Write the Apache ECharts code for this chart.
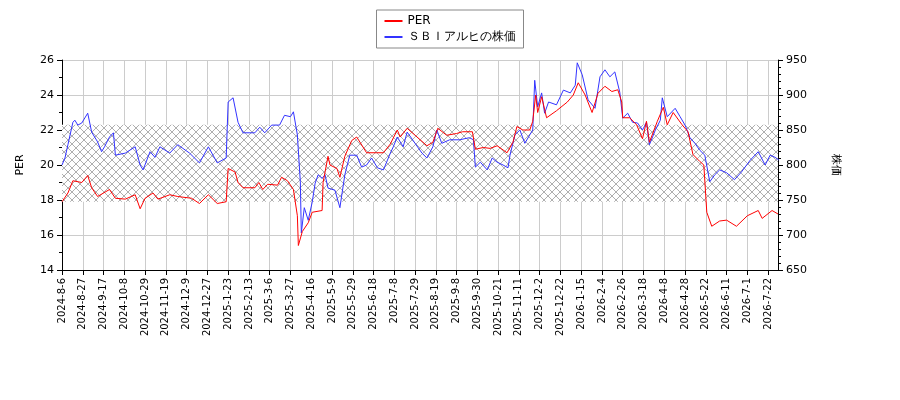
<!DOCTYPE html>
<html><head><meta charset="utf-8">
<script src="https://cdn.jsdelivr.net/npm/echarts@6/dist/echarts.min.js"></script>
<style>html,body{margin:0;padding:0;background:#fff}#c{width:900px;height:400px}</style>
</head><body><div id="c"></div>
<script>
const tickLabels = ['2024-8-6','2024-8-27','2024-9-17','2024-10-8','2024-10-29','2024-11-19','2024-12-9','2024-12-27',
'2025-1-23','2025-2-13','2025-3-6','2025-3-27','2025-4-16','2025-5-9','2025-5-29','2025-6-18','2025-7-8','2025-7-29',
'2025-8-19','2025-9-8','2025-9-30','2025-10-21','2025-11-11','2025-12-2','2025-12-22',
'2026-1-15','2026-2-4','2026-2-26','2026-3-18','2026-4-8','2026-4-28','2026-5-22','2026-6-11','2026-7-1','2026-7-22'];
const perPos = [0,6,11,20,26,30,36,48,54,64,74,79,84,92,97,109,117,131,139,148,157,166,168,175,178,183,195,199,203,208,218,222,228,234,238,239,243,249,253,263,264,269,271,278,281,286,293,298,308,318,325,332,339,342,349,357,369,375,380,389,399,405,415,418,426,433,440,450,456,460,466,473,476,479,481,485,490,500,511,517,522,529,536,542,549,556,562,566,567,574,581,587,591,594,602,608,612,618,627,633,638,645,649,652,657,665,672,682,693,704,708,718,724];
const perValues = [17.9,18.4,19.1,19.0,19.4,18.7,18.2,18.6,18.1,18.05,18.3,17.5,18.1,18.4,18.05,18.3,18.2,18.1,17.8,18.3,17.8,17.9,19.8,19.6,19.0,18.7,18.7,19.0,18.6,18.9,18.85,19.3,19.1,18.6,17.1,15.4,16.2,16.7,17.3,17.4,19.0,20.5,20.0,19.8,19.3,20.5,21.4,21.6,20.7,20.7,20.7,21.2,22.0,21.6,22.1,21.7,21.1,21.3,22.1,21.7,21.8,21.9,21.9,20.9,21.0,20.95,21.1,20.7,21.3,22.2,22.0,22.0,22.5,24.0,23.0,23.9,22.7,23.1,23.6,24.0,24.7,24.0,23.0,24.1,24.5,24.2,24.3,23.6,22.7,22.7,22.3,21.5,22.5,21.3,22.5,23.3,22.3,23.0,22.3,21.9,20.6,20.2,20.0,17.3,16.5,16.8,16.85,16.5,17.1,17.4,16.95,17.4,17.2];
const pricePos = [0,3,6,11,13,16,20,26,30,36,40,43,48,52,54,64,74,79,82,89,94,99,109,117,129,139,148,157,166,168,173,178,183,195,200,205,212,220,225,231,234,238,241,242,245,249,253,256,259,263,266,269,276,281,286,291,298,303,308,313,319,325,332,335,339,345,349,357,364,369,375,379,384,392,402,412,416,418,423,430,435,440,446,451,453,458,463,468,473,476,478,481,485,488,492,500,507,514,519,521,526,532,539,544,549,554,559,564,567,572,577,582,587,591,594,600,605,607,612,620,625,630,635,640,645,650,655,660,665,672,680,687,696,704,711,716,721,725];
const priceValues = [800,810,829,861,864,857,860,874,847,833,819,826,840,846,814,817,826,800,793,819,811,826,817,829,817,803,826,803,810,890,896,861,846,846,854,846,857,857,871,869,876,843,776,703,739,721,747,774,786,781,786,767,764,739,786,814,814,797,800,810,796,793,817,826,840,826,847,831,817,810,826,850,831,836,836,839,836,797,804,793,810,804,800,796,814,843,850,831,843,850,921,883,903,874,890,886,907,903,914,946,929,893,881,926,936,926,933,904,867,874,861,860,850,861,829,850,864,896,869,881,869,857,839,831,821,814,776,786,793,789,779,790,807,819,800,814,811,807];
const bandRange = [17.9, 22.3];

const cv = document.createElement('canvas'); cv.width = 8; cv.height = 8;
const g = cv.getContext('2d'); g.fillStyle='#fff'; g.fillRect(0,0,8,8);
g.strokeStyle='#9a9a9a'; g.lineWidth=0.8; g.beginPath();
g.moveTo(0,0); g.lineTo(8,8); g.moveTo(8,0); g.lineTo(0,8); g.stroke();

const zip = (a,b)=>a.map((v,i)=>[v,b[i]]);
const ch = echarts.init(document.getElementById('c'));
const axisFont = {fontFamily:'DejaVu Sans', fontSize:11, color:'#000'};
ch.setOption({
  animation:false,
  legend:{top:10,left:'center',orient:'vertical',borderColor:'#888',borderWidth:1,padding:[5,8],itemGap:4,
    itemWidth:18,itemHeight:2,textStyle:{fontFamily:'DejaVu Sans',fontSize:12,color:'#000'},
    data:[{name:'PER',icon:'rect'},{name:'ＳＢＩアルヒの株価',icon:'rect'}]},
  grid:{left:62,right:122,top:60,bottom:130},
  xAxis:{type:'value',min:0,max:724,interval:21,
    axisLine:{lineStyle:{color:'#000'}},axisTick:{lineStyle:{color:'#000'}},
    splitLine:{show:true,lineStyle:{color:'#ccc'}},
    axisLabel:{...axisFont,fontSize:10,rotate:90,showMaxLabel:false,formatter:v=>tickLabels[Math.round(v/21)]||''}},
  yAxis:[
    {type:'value',min:14,max:26,interval:2,name:'PER',nameLocation:'middle',nameGap:36,nameRotate:90,nameTextStyle:axisFont,
     axisLine:{show:true,lineStyle:{color:'#000'}},axisTick:{show:true},minorTick:{show:true,splitNumber:2},
     splitLine:{lineStyle:{color:'#ccc'}},axisLabel:axisFont},
    {type:'value',min:650,max:950,interval:50,name:'株価',nameLocation:'middle',nameGap:52,nameRotate:-90,nameTextStyle:axisFont,
     axisLine:{show:true,lineStyle:{color:'#000'}},axisTick:{show:true},minorTick:{show:true,splitNumber:5},
     splitLine:{show:false},axisLabel:axisFont}
  ],
  series:[
    {name:'PER',type:'line',yAxisIndex:0,data:zip(perPos,perValues),showSymbol:false,lineStyle:{color:'#ff0000',width:1},itemStyle:{color:'#ff0000'},z:3,
     markArea:{silent:true,itemStyle:{color:{image:cv,repeat:'repeat'},opacity:1},
       data:[[{yAxis:bandRange[0],xAxis:0},{yAxis:bandRange[1],xAxis:724}]]}},
    {name:'ＳＢＩアルヒの株価',type:'line',yAxisIndex:1,data:zip(pricePos,priceValues),showSymbol:false,lineStyle:{color:'#3333ff',width:1},itemStyle:{color:'#3333ff'},z:2}
  ]
});
</script></body></html>
